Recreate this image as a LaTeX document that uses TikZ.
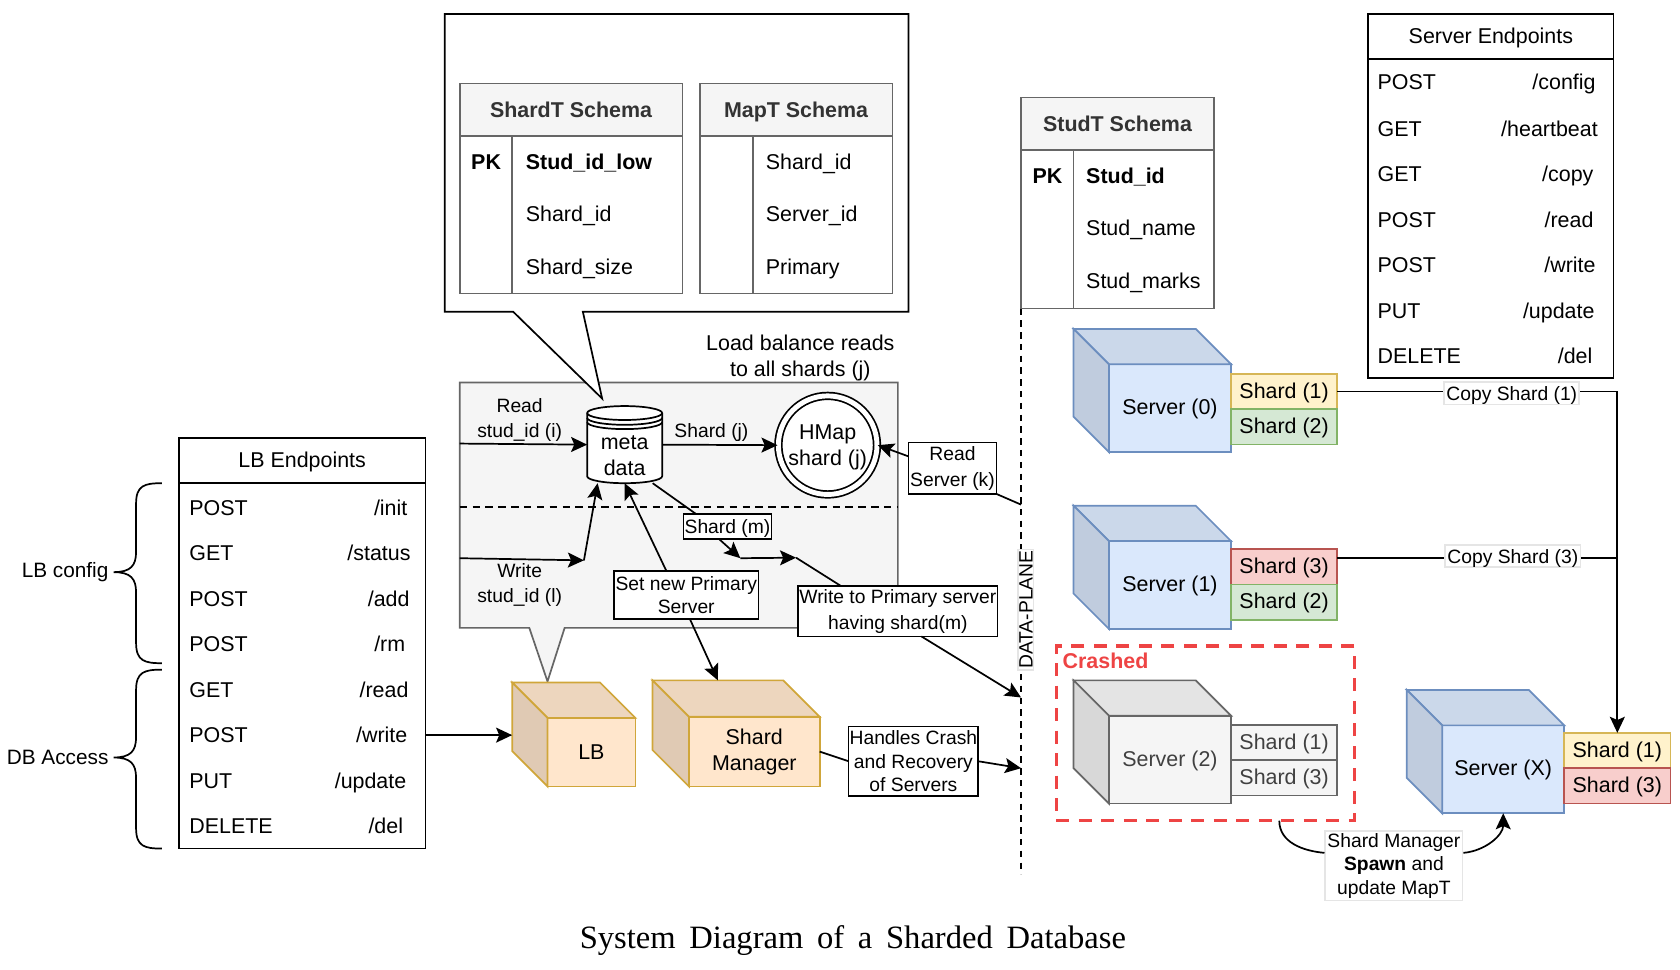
\documentclass[tikz,border=0pt]{standalone}
\usepackage{fontspec}
\setmainfont{Liberation Serif}
\setsansfont{Liberation Sans}
\renewcommand{\familydefault}{\sfdefault}
\usetikzlibrary{arrows.meta, positioning}
\definecolor{greyfill}{HTML}{F5F5F5}
\definecolor{greyline}{HTML}{666666}
\definecolor{srvfill}{HTML}{DAE8FC}
\definecolor{srvline}{HTML}{6C8EBF}
\definecolor{orgfill}{HTML}{FFE6CC}
\definecolor{orgline}{HTML}{D0A63A}
\definecolor{yelfill}{HTML}{FFF2CC}
\definecolor{yelline}{HTML}{D6B656}
\definecolor{grnfill}{HTML}{D5E8D4}
\definecolor{grnline}{HTML}{82B366}
\definecolor{redfill}{HTML}{F8CECC}
\definecolor{redline}{HTML}{B85450}
\definecolor{crashred}{HTML}{EE4444}

\begin{document}
\begin{tikzpicture}[
    x=0.5pt, y=-0.5pt, line width=0.8pt,
    box/.style={draw, fill=white, rectangle, align=center, inner sep=0pt, outer sep=0pt, font=\small},
    lbl/.style={align=center, inner sep=0pt, font=\small},
    edgelbl/.style={draw=black!10, fill=white, align=center, inner sep=1pt, font=\small},
    arrow/.style={-{Stealth[length=7.5pt, width=7pt, inset=1.5pt]}},
    tablehead/.style={draw=greyline, fill=greyfill, text=black!80, rectangle, inner sep=0pt, outer sep=0pt, text height=7.2pt, text depth=0pt, font=\bfseries},
    tablebody/.style={draw=greyline, fill=white, rectangle, inner sep=0pt, outer sep=0pt},
    tablerule/.style={draw=greyline},
    ephead/.style={draw, fill=white, rectangle, inner sep=0pt, outer sep=0pt, text height=6.2pt, text depth=0pt},
    rowl/.style={anchor=base west, inner sep=0pt},
    rowr/.style={anchor=base east, inner sep=0pt},
    srvface/.style={draw=srvline, fill=srvfill, rectangle, minimum width=57pt, minimum height=41pt, inner sep=0pt, outer sep=0pt, text height=6.2pt, text depth=0pt, anchor=north west},
    srvtop/.style={draw=srvline, fill=srvfill!93!black},
    srvside/.style={draw=srvline, fill=srvfill!88!black},
    deadface/.style={draw=greyline, fill=greyfill, text=black!75, rectangle, minimum width=57pt, minimum height=41pt, inner sep=0pt, outer sep=0pt, text height=6.2pt, text depth=0pt, anchor=north west},
    deadtop/.style={draw=greyline, fill=greyfill!93!black},
    deadside/.style={draw=greyline, fill=greyfill!88!black},
    orgface/.style={draw=orgline, fill=orgfill, rectangle, align=center, inner sep=0pt, outer sep=0pt, anchor=north west},
    orgtop/.style={draw=orgline, fill=orgfill!93!black},
    orgside/.style={draw=orgline, fill=orgfill!88!black},
    shard/.style={rectangle, minimum width=49.5pt, minimum height=16.5pt, inner sep=0pt, outer sep=0pt, text height=6.2pt, text depth=0pt},
    shardone/.style={shard, draw=yelline, fill=yelfill},
    shardtwo/.style={shard, draw=grnline, fill=grnfill},
    shardthree/.style={shard, draw=redline, fill=redfill},
    sharddead/.style={shard, draw=greyline, fill=greyfill, text=black!75}
]
\useasboundingbox (0,0) rectangle (1568,905.33);

% Load balancer group
\draw [draw=greyline, fill=greyfill] (429,357) -- (838,357) -- (838,586) -- (527,586) -- (511,636) -- (494,586) -- (429,586) -- cycle;
\draw [dashed, dash pattern=on 3.5pt off 2.5pt] (429,473) -- (838,473);

% Metadata callout
\draw [fill=white] (415,13) -- (848,13) -- (848,291) -- (544,291) -- (562,372) -- (479,291) -- (415,291) -- cycle;

% ShardT schema
\node (shardhead) [tablehead, minimum width=104pt, minimum height=24.5pt, anchor=north west] at (429,78) {ShardT Schema};
\node (shardbody) [tablebody, minimum width=104pt, minimum height=73.5pt, below=0pt of shardhead] {};
\draw [tablerule] ([xshift=24.5pt]shardbody.north west) -- ([xshift=24.5pt]shardbody.south west);
\node (shardpk) [rowl, font=\bfseries] at (439,158) {PK};
\node (shardlow) [rowl, font=\bfseries] at (490,158) {Stud\_id\_low};
\node (shardid) [rowl] at (490,207) {Shard\_id};
\node (shardsize) [rowl] at (490,256) {Shard\_size};

% MapT schema
\node (maphead) [tablehead, minimum width=90pt, minimum height=24.5pt, anchor=north west] at (653,78) {MapT Schema};
\node (mapbody) [tablebody, minimum width=90pt, minimum height=73.5pt, below=0pt of maphead] {};
\draw [tablerule] ([xshift=25pt]mapbody.north west) -- ([xshift=25pt]mapbody.south west);
\node (mapshard) [rowl] at (714,158) {Shard\_id};
\node (mapserver) [rowl] at (714,207) {Server\_id};
\node (mapprimary) [rowl] at (714,256) {Primary};

% StudT schema
\node (studhead) [tablehead, minimum width=90pt, minimum height=24.5pt, anchor=north west] at (953,91) {StudT Schema};
\node (studbody) [tablebody, minimum width=90pt, minimum height=74pt, below=0pt of studhead] {};
\draw [tablerule] ([xshift=24.5pt]studbody.north west) -- ([xshift=24.5pt]studbody.south west);
\node (studpk) [rowl, font=\bfseries] at (963,171) {PK};
\node (studid) [rowl, font=\bfseries] at (1013,171) {Stud\_id};
\node (studname) [rowl] at (1013,220) {Stud\_name};
\node (studmarks) [rowl] at (1013,269) {Stud\_marks};

% Server endpoints
\node (srvhead) [ephead, minimum width=114.5pt, minimum height=21pt, anchor=north west] at (1277,13) {Server Endpoints};
\node (srvbody) [ephead, minimum width=114.5pt, minimum height=149pt, below=0pt of srvhead] {};
\node (sa) [rowl] at (1285,84) {POST};   \node (sb) [rowr] at (1490,84) {/config};
\node (sc) [rowl] at (1285,127) {GET};   \node (sd) [rowr] at (1492,127) {/heartbeat};
\node (se) [rowl] at (1285,169) {GET};   \node (sf) [rowr] at (1488,169) {/copy};
\node (sg) [rowl] at (1285,212) {POST};  \node (sh) [rowr] at (1488,212) {/read};
\node (si) [rowl] at (1285,254) {POST};  \node (sj) [rowr] at (1490,254) {/write};
\node (sk) [rowl] at (1285,297) {PUT};   \node (sl) [rowr] at (1489,297) {/update};
\node (sm) [rowl] at (1285,339) {DELETE}; \node (sn) [rowr] at (1487,339) {/del};

% LB endpoints
\node (lbhead) [ephead, minimum width=115pt, minimum height=21pt, anchor=north west] at (167,409) {LB Endpoints};
\node (lbbody) [ephead, minimum width=115pt, minimum height=170.5pt, below=0pt of lbhead] {};
\node (la) [rowl] at (176,481) {POST};   \node (lb) [rowr] at (381,481) {/init};
\node (lc) [rowl] at (176,523) {GET};    \node (ld) [rowr] at (384,523) {/status};
\node (le) [rowl] at (176,566) {POST};   \node (lf) [rowr] at (383,566) {/add};
\node (lg) [rowl] at (176,608) {POST};   \node (lh) [rowr] at (379,608) {/rm};
\node (li) [rowl] at (176,651) {GET};    \node (lj) [rowr] at (382,651) {/read};
\node (lk) [rowl] at (176,693) {POST};   \node (ll) [rowr] at (381,693) {/write};
\node (lm) [rowl] at (176,736) {PUT};    \node (ln) [rowr] at (380,736) {/update};
\node (lo) [rowl] at (176,778) {DELETE}; \node (lp) [rowr] at (377,778) {/del};

% Braces
\node (cfg) [anchor=east, inner sep=0pt, font=\fontsize{9.7}{12}\selectfont] at (102,534) {LB config};
\node (dba) [anchor=east, inner sep=0pt, font=\fontsize{9.7}{12}\selectfont] at (102,707) {DB Access};
\draw (151,451) .. controls (135,451) and (127,453) .. (127,470) -- (127,515) .. controls (127,528) and (122,534) .. (106,534) .. controls (122,534) and (127,540) .. (127,553) -- (127,600) .. controls (127,617) and (135,619) .. (151,619);
\draw (151,625) .. controls (135,625) and (127,627) .. (127,644) -- (127,688) .. controls (127,701) and (122,707) .. (106,707) .. controls (122,707) and (127,713) .. (127,726) -- (127,773) .. controls (127,790) and (135,792) .. (151,792);

% Metadata and map
\draw [fill=white] (548,385.5) arc [x radius=17.5pt, y radius=3.25pt, start angle=180, end angle=0] -- (618,444.5) arc [x radius=17.5pt, y radius=3.25pt, start angle=0, end angle=-180] -- cycle;
\draw (548,385.5) arc [x radius=17.5pt, y radius=3.25pt, start angle=180, end angle=360];
\draw (548,390) arc [x radius=17.5pt, y radius=3.25pt, start angle=180, end angle=360];
\draw (548,394) arc [x radius=17.5pt, y radius=3.25pt, start angle=180, end angle=360];
\node (meta) [rectangle, minimum width=35pt, minimum height=36pt, inner sep=0pt, outer sep=0pt, label={[align=center, yshift=-5pt]center:meta\\data}] at (583,415) {};
\node (hmap) [circle, draw, double, double distance=2.3pt, fill=white, align=center, minimum size=46pt, inner sep=0pt, text depth=0pt] at (772.5,415.5) {HMap\\shard (j)};

% Group labels
\node (loadlbl) [align=center, inner sep=0pt] at (747,334) {Load balance reads\\to all shards (j)};
\node (readlbl) [lbl] at (485,392) {Read\\[1pt]stud\_id (i)};
\node (writelbl) [lbl] at (485,546) {Write\\[1pt]stud\_id (l)};
\node (shardjlbl) [lbl] at (664,404) {Shard (j)};

% Load balancer and shard manager
\node (lbcube) [orgface, minimum width=41pt, minimum height=32pt] at (511,670) {LB};
\draw [orgtop] (lbcube.north west) -- ++(-33,-33) -- ++(82,0) -- (lbcube.north east) -- cycle;
\draw [orgside] (lbcube.north west) -- ++(-33,-33) -- ++(0,64) -- (lbcube.south west) -- cycle;
\node (mgrcube) [orgface, minimum width=61pt, minimum height=32.5pt] at (643,669) {Shard\\Manager};
\draw [orgtop] (mgrcube.north west) -- ++(-34,-34) -- ++(122,0) -- (mgrcube.north east) -- cycle;
\draw [orgside] (mgrcube.north west) -- ++(-34,-34) -- ++(0,65) -- (mgrcube.south west) -- cycle;

% Labelled boxes
\node (setprim) [box, minimum width=67.5pt, minimum height=22.5pt] at (640.5,555.5) {Set new Primary\\Server};
\node (shardm) [box, minimum width=41pt, minimum height=11.5pt, text height=6.5pt, text depth=0pt] at (679,491.5) {Shard (m)};
\node (wrprim) [box, minimum width=93pt, minimum height=23.5pt] at (838,570.5) {Write to Primary server\\[1pt]having shard(m)};
\node (readsrv) [box, minimum width=41pt, minimum height=24pt] at (889,437) {Read\\[1pt]Server (k)};
\node (handles) [box, minimum width=60.5pt, minimum height=32.5pt] at (852.5,710.5) {Handles Crash\\and Recovery\\of Servers};

% Servers
\node (srvzero) [srvface] at (1035,340) {Server (0)};
\draw [srvtop] (srvzero.north west) -- ++(-33,-33) -- ++(114,0) -- (srvzero.north east) -- cycle;
\draw [srvside] (srvzero.north west) -- ++(-33,-33) -- ++(0,82) -- (srvzero.south west) -- cycle;
\node (sza) [shardone, anchor=north west] at (1149,349) {Shard (1)};
\node (szb) [shardtwo, below=0pt of sza] {Shard (2)};

\node (srvone) [srvface] at (1035,505) {Server (1)};
\draw [srvtop] (srvone.north west) -- ++(-33,-33) -- ++(114,0) -- (srvone.north east) -- cycle;
\draw [srvside] (srvone.north west) -- ++(-33,-33) -- ++(0,82) -- (srvone.south west) -- cycle;
\node (soa) [shardthree, anchor=north west] at (1149,512.5) {Shard (3)};
\node (sob) [shardtwo, below=0pt of soa] {Shard (2)};

\node (srvtwo) [deadface] at (1035,668) {Server (2)};
\draw [deadtop] (srvtwo.north west) -- ++(-33,-33) -- ++(114,0) -- (srvtwo.north east) -- cycle;
\draw [deadside] (srvtwo.north west) -- ++(-33,-33) -- ++(0,82) -- (srvtwo.south west) -- cycle;
\node (sta) [sharddead, anchor=north west] at (1149,676.5) {Shard (1)};
\node (stb) [sharddead, below=0pt of sta] {Shard (3)};

\node (srvx) [srvface] at (1346,677) {Server (X)};
\draw [srvtop] (srvx.north west) -- ++(-33,-33) -- ++(114,0) -- (srvx.north east) -- cycle;
\draw [srvside] (srvx.north west) -- ++(-33,-33) -- ++(0,82) -- (srvx.south west) -- cycle;
\node (sxa) [shardone, anchor=north west] at (1460,684) {Shard (1)};
\node (sxb) [shardthree, below=0pt of sxa] {Shard (3)};

% Crashed region
\node (crash) [draw=crashred, line width=1.5pt, dash pattern=on 6pt off 4.5pt, rectangle, minimum width=139pt, minimum height=81.5pt, inner sep=0pt, outer sep=0pt] at (1125,684.5) {};
\node (crashlbl) [anchor=base west, inner sep=0pt, text=crashred, font=\bfseries] at (991,624) {Crashed};

% Free ends
\coordinate (readin) at (429,414);
\coordinate (writein) at (429,521);
\coordinate (writeend) at (545,523);
\coordinate (joina) at (691,521);
\coordinate (joinb) at (743,520.5);
\coordinate (dpend) at (953,816);
\coordinate (dpread) at (953,471);
\coordinate (dpwrite) at (953,651);
\coordinate (dpcrash) at (953,717);
\coordinate (crashout) at (1194,766);

% Data plane
\draw [dashed, dash pattern=on 3pt off 2.5pt] (studbody.south west) -- (dpend);
\node (dplane) [edgelbl, rotate=90, inner sep=0.5pt] at (957.5,569) {DATA-PLANE};

% Connections
\draw [arrow] (readin) -- (meta.west);
\draw [arrow] (writein) -- (writeend);
\draw [arrow] (writeend) -- (meta.235);
\draw [arrow] (meta.east) -- (hmap.west);
\draw [arrow] ([xshift=-9.25pt]setprim.north) -- (meta.south);
\draw [arrow] ([xshift=1.75pt]setprim.south) -- ([xshift=-17pt, yshift=17pt]mgrcube.north);
\draw (meta.-54) -- ([xshift=6pt]shardm.north west);
\draw [arrow] ([xshift=-4pt]shardm.south) -- (joina);
\draw [arrow] (joina) -- (joinb);
\draw (joinb) -- ([xshift=-26.5pt]wrprim.north);
\draw [arrow] ([xshift=11pt]wrprim.south) -- (dpwrite);
\draw [arrow] ([yshift=5.5pt]readsrv.west) -- (hmap.east);
\draw (dpread) -- (readsrv.south east);
\draw (mgrcube.east) -- (handles.west);
\draw [arrow] (handles.east) -- (dpcrash);
\draw [arrow] (lbbody.east |- lk) -- ([xshift=-16.5pt]lbcube.west |- lk);

\draw [arrow] (sza.east) -| (sxa.north);
\draw ([yshift=4.25pt]soa.east) -- ([yshift=4.25pt]soa.east -| sxa.north);
\node (copya) [edgelbl, minimum height=10.5pt, text height=6.5pt, text depth=0pt] at (1411,367) {Copy Shard (1)};
\node (copyb) [edgelbl, minimum height=10.5pt, text height=6.5pt, text depth=0pt] at (1412,519) {Copy Shard (3)};

\node (spawn) [edgelbl] at (1301,808) {Shard Manager\\\textbf{Spawn} and\\update MapT};
\draw (crashout) to [out=-90, in=175] ([yshift=6pt]spawn.west);
\draw [arrow] ([yshift=6pt]spawn.east) to [out=5, in=-90] (srvx.south);

% Caption
\node (caption) [inner sep=0pt, font=\rmfamily\fontsize{15.2}{18}\selectfont] at (796,878) {\spaceskip 6.4pt\relax System Diagram of a Sharded Database};

\end{tikzpicture}
\end{document}
